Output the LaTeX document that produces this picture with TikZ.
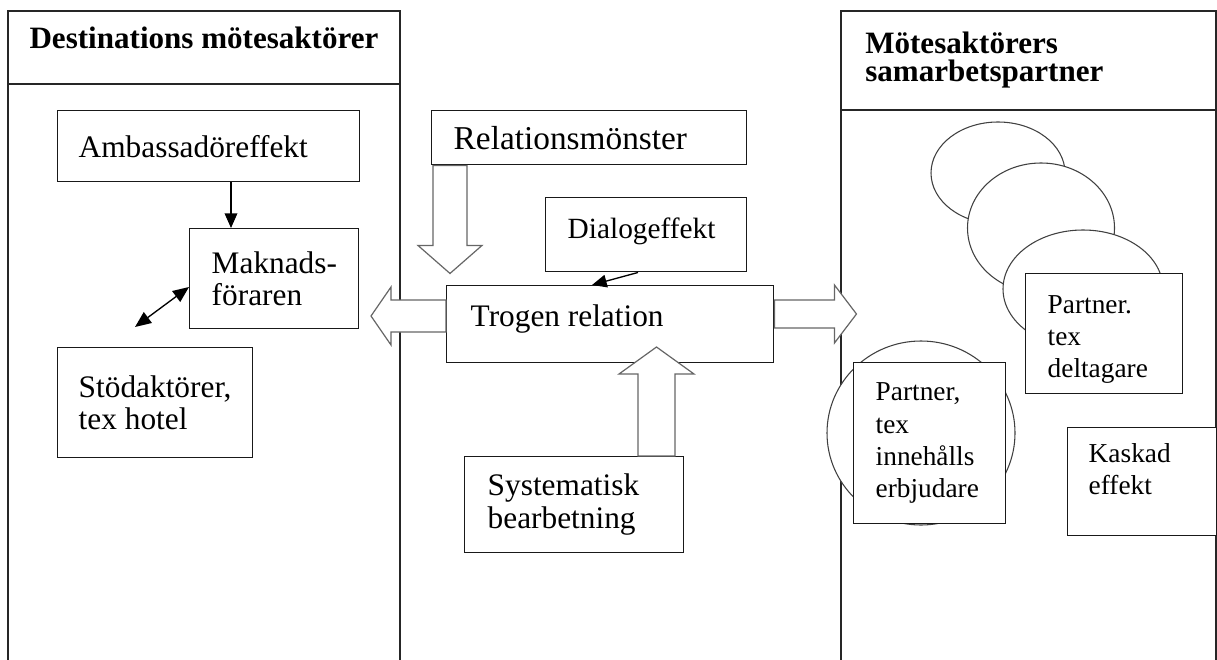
\documentclass[tikz,border=0pt]{standalone}
\usepackage{fontspec}
\setmainfont{Liberation Serif}
\usepackage{tikz}
\usetikzlibrary{arrows.meta}
\newcommand{\bodysize}{\fontsize{23.5}{24.4}\selectfont}
\newcommand{\partsize}{\fontsize{20.5}{24.2}\selectfont}
\newcommand{\headsize}{\fontsize{23.3}{21}\selectfont\bfseries}
\tikzset{
  panel/.style={line width=1pt,draw=black!85},
  pbox/.style={draw=black!90,line width=1.1pt,fill=white,align=flush left,inner ysep=0pt,anchor=north west,font=\bodysize},
  hdr/.style={inner sep=0pt,font=\headsize},
  oval/.style={draw=black!75,line width=0.8pt,fill=white},
  blockarr/.style={draw=black!60,line width=0.9pt,fill=white},
  tarr/.style={-{Triangle[length=11pt,width=9.5pt]},line width=1pt},
  tarrboth/.style={{Triangle[length=12pt,width=10pt]}-{Triangle[length=12pt,width=10pt]},line width=1pt}
}
\begin{document}
\begin{tikzpicture}[x=0.75pt,y=-0.75pt]
  \useasboundingbox (0,0) rectangle (1217,660);
  % the two side panels
  \draw[panel] (8,660) -- (8,11) -- (400,11) -- (400,660);
  \draw[panel] (8,84) -- (400,84);
  \draw[panel] (841,660) -- (841,11) -- (1216,11) -- (1216,660);
  \draw[panel] (841,110) -- (1216,110);
  \node[hdr,anchor=base] (hleft) at (204,49) {Destinations mötesaktörer};
  \node[hdr,anchor=north west,align=left] (hright) at (865,32) {Mötesaktörers\\samarbetspartner};
  % stacked partner ovals
  \draw[oval] (998,173) ellipse [x radius=67,y radius=51];
  \draw[oval] (1041,228) ellipse [x radius=73.5,y radius=65];
  \draw[oval] (1083,289) ellipse [x radius=80,y radius=59];
  \draw[oval] (921,433) ellipse [x radius=94,y radius=92];
  % boxes
  \node[pbox,minimum height=53.25pt,text width=195pt,inner xsep=15.75pt] (amb) at (57,110) {Ambassadöreffekt};
  \node[pbox,minimum height=75pt,text width=93.75pt,inner xsep=16.5pt] (mak) at (189,228) {\mbox{Maknads-}\\föraren};
  \node[pbox,minimum height=82.5pt,text width=114.75pt,inner xsep=15.75pt] (stod) at (57,347) {Stödaktörer,\\tex hotel};
  \node[pbox,minimum height=40.5pt,text width=203.25pt,inner xsep=16.5pt,font=\fontsize{25}{26}\selectfont] (rel) at (431,110) {Relationsmönster};
  \node[pbox,minimum height=55.5pt,text width=117.75pt,inner xsep=16.5pt,text depth=10.5pt,font=\fontsize{22}{24}\selectfont] (dia) at (545,197) {Dialogeffekt};
  \node[pbox,minimum height=57.75pt,text width=209.25pt,inner xsep=18pt,text depth=13pt] (tro) at (446,285) {Trogen relation};
  \node[pbox,minimum height=72pt,text width=129.75pt,inner xsep=17.25pt] (sys) at (464,456) {Systematisk\\bearbetning};
  \node[pbox,minimum height=90pt,text width=84.75pt,inner xsep=16.5pt,text depth=44pt,font=\partsize] (pdel) at (1025,273) {Partner.\\tex\\deltagare};
  \node[pbox,minimum height=120.75pt,text width=81pt,inner xsep=16.5pt,font=\partsize] (pinn) at (853,362) {Partner,\\tex\\innehålls\\erbjudare};
  \node[pbox,minimum height=81pt,text width=80.25pt,inner xsep=15.75pt,text depth=43pt,font=\partsize] (kas) at (1067,427) {Kaskad\\effekt};
  % thin arrows
  \coordinate (stodtip) at (135,327);
  \draw[tarr] (amb.south -| 231,0) -- (mak.north -| 231,0);
  \draw[tarrboth] (stodtip) -- (mak.west |- 0,287);
  \draw[tarr] (dia.south -| 638,0) -- (tro.north -| 592,0);
  % block arrows
  \draw[blockarr] (rel.south -| 433,0) -- ++(0,80) -- ++(-15,0) -- ++(32,28) -- ++(32,-28) -- ++(-15,0) -- ++(0,-80) -- cycle;
  \draw[blockarr] (tro.west |- 0,300) -- ++(-55,0) -- ++(0,-13) -- ++(-20,29) -- ++(20,29) -- ++(0,-13) -- ++(55,0) -- cycle;
  \draw[blockarr] (tro.east |- 0,300) -- ++(60,0) -- ++(0,-15) -- ++(22,29) -- ++(-22,29) -- ++(0,-15) -- ++(-60,0) -- cycle;
  \draw[blockarr] (sys.north -| 638,0) -- ++(0,-82) -- ++(-19,0) -- ++(37.5,-27) -- ++(37.5,27) -- ++(-19,0) -- ++(0,82) -- cycle;
\end{tikzpicture}
\end{document}
